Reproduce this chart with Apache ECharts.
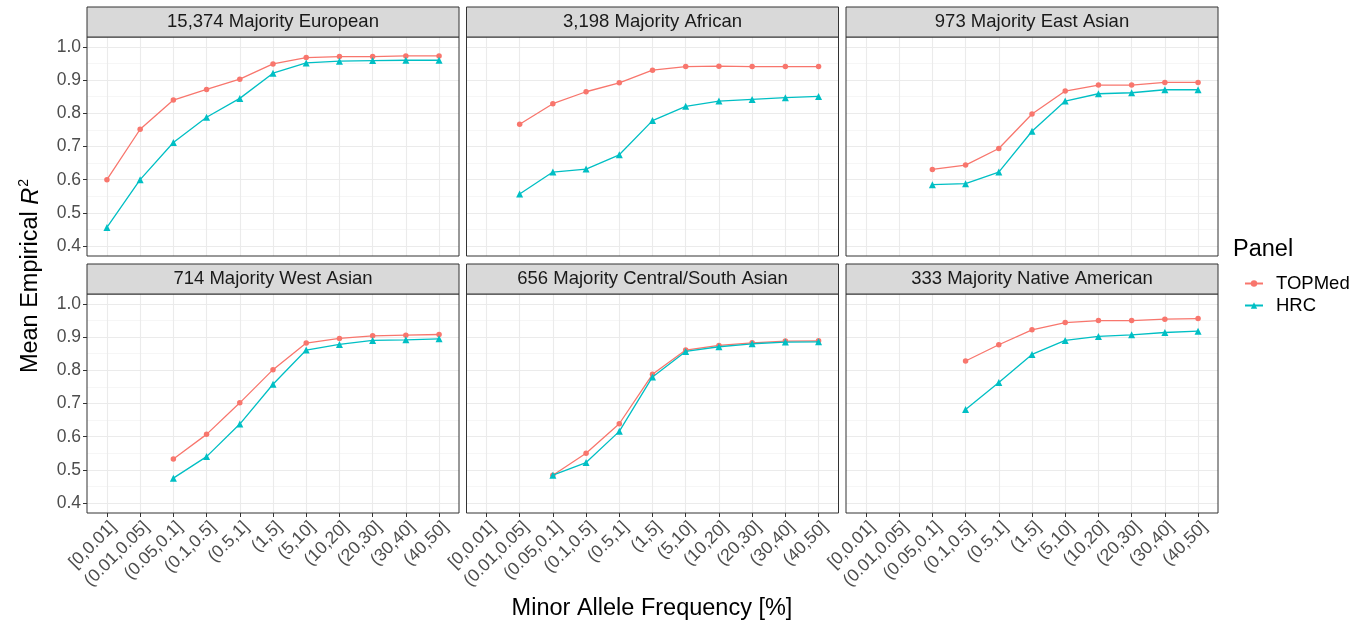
<!DOCTYPE html>
<html>
<head>
<meta charset="utf-8">
<title>Mean empirical R² by minor allele frequency</title>
<script src="https://cdn.jsdelivr.net/npm/echarts@6/dist/echarts.min.js"></script>
<style>
  html, body { margin: 0; padding: 0; background: #ffffff; }
  #chart { width: 1367px; height: 629px; }
</style>
</head>
<body>
<div id="chart"></div>
<script>
// Minor allele frequency bins (x categories)
const mafBins = ['[0,0.01]', '(0.01,0.05]', '(0.05,0.1]', '(0.1,0.5]', '(0.5,1]', '(1,5]',
                 '(5,10]', '(10,20]', '(20,30]', '(30,40]', '(40,50]'];

const panelTitles = ['15,374 Majority European', '3,198 Majority African', '973 Majority East Asian',
                     '714 Majority West Asian', '656 Majority Central/South Asian', '333 Majority Native American'];

const referencePanels = ['TOPMed', 'HRC'];

// Mean empirical R² per bin (null = bin not reported)
const topmedEuropean       = [0.600, 0.752, 0.840, 0.872, 0.903, 0.949, 0.968, 0.971, 0.971, 0.973, 0.973];
const hrcEuropean          = [0.456, 0.600, 0.712, 0.788, 0.845, 0.921, 0.952, 0.957, 0.959, 0.960, 0.960];
const topmedAfrican        = [null, 0.767, 0.829, 0.865, 0.892, 0.930, 0.941, 0.942, 0.941, 0.941, 0.941];
const hrcAfrican           = [null, 0.557, 0.623, 0.632, 0.675, 0.778, 0.821, 0.837, 0.842, 0.847, 0.851];
const topmedEastAsian      = [null, null, 0.631, 0.644, 0.694, 0.798, 0.867, 0.885, 0.885, 0.893, 0.893];
const hrcEastAsian         = [null, null, 0.585, 0.588, 0.623, 0.746, 0.837, 0.859, 0.862, 0.871, 0.871];
const topmedWestAsian      = [null, null, 0.533, 0.607, 0.702, 0.802, 0.882, 0.896, 0.904, 0.906, 0.908];
const hrcWestAsian         = [null, null, 0.475, 0.540, 0.638, 0.758, 0.861, 0.878, 0.890, 0.892, 0.895];
const topmedSouthAsian     = [null, null, 0.484, 0.550, 0.639, 0.788, 0.861, 0.875, 0.883, 0.888, 0.889];
const hrcSouthAsian        = [null, null, 0.484, 0.522, 0.616, 0.780, 0.857, 0.871, 0.880, 0.885, 0.886];
const topmedNativeAmerican = [null, null, null, 0.828, 0.877, 0.922, 0.944, 0.950, 0.950, 0.954, 0.956];
const hrcNativeAmerican    = [null, null, null, 0.682, 0.763, 0.848, 0.890, 0.902, 0.907, 0.914, 0.918];

const yBreakMin = 0.4, yBreakMax = 1.0, yBreakStep = 0.1;

const panelSeries = [
  [topmedEuropean, hrcEuropean],
  [topmedAfrican, hrcAfrican],
  [topmedEastAsian, hrcEastAsian],
  [topmedWestAsian, hrcWestAsian],
  [topmedSouthAsian, hrcSouthAsian],
  [topmedNativeAmerican, hrcNativeAmerican]
];

// ---- layout ----
const FONT = '"Liberation Sans", Arial, Helvetica, sans-serif';
const colLeft = [87, 466.5, 846];
const rowTop = [37, 294];
const PANEL_W = 372;
const PLOT_H = 219;
const STRIP_H = 30;
const EXPAND = 0.6;                                    // discrete axis padding, in category units
const yPad = (yBreakMax - yBreakMin) * 0.05;           // continuous axis padding
const yLo = yBreakMin - yPad, yHi = yBreakMax + yPad;
const catStep = PANEL_W / (mafBins.length - 1 + 2 * EXPAND);
const seriesColors = ['#F8766D', '#00BFC4'];
const seriesSymbols = ['circle', 'triangle'];
const seriesSymbolSize = [5.5, 7];

const grids = [], xAxes = [], yAxes = [], series = [], graphics = [];

panelTitles.forEach((title, p) => {
  const r = Math.floor(p / 3), c = p % 3;
  const left = colLeft[c], top = rowTop[r];
  const isBottom = r === 1, isLeft = c === 0;

  // grid 2p: horizontal gridlines + y labels, spans the full panel width over the break range
  const breakTop = top + (yHi - yBreakMax) / (yHi - yLo) * PLOT_H;
  const breakH = (yBreakMax - yBreakMin) / (yHi - yLo) * PLOT_H;
  grids.push({ left: left, top: breakTop, width: PANEL_W, height: breakH, containLabel: false });
  xAxes.push({ gridIndex: 2 * p, type: 'value', min: 0, max: 1, show: false });
  yAxes.push({
    gridIndex: 2 * p, type: 'value', min: yBreakMin, max: yBreakMax, interval: yBreakStep,
    axisLine: { show: false },
    axisTick: { show: isLeft, length: 4, lineStyle: { color: '#333333', width: 1 } },
    axisLabel: {
      show: isLeft, margin: 6, color: '#4D4D4D', fontSize: 17.5, fontFamily: FONT,
      formatter: v => v.toFixed(1)
    },
    splitLine: { show: true, lineStyle: { color: '#EBEBEB', width: 1.1 } },
    minorTick: { show: false, splitNumber: 2 },
    minorSplitLine: { show: true, lineStyle: { color: '#F2F2F2', width: 0.7 } }
  });

  // grid 2p+1: data area, spans first to last category over the full panel height
  grids.push({
    left: left + EXPAND * catStep, top: top,
    width: catStep * (mafBins.length - 1), height: PLOT_H, containLabel: false
  });
  xAxes.push({
    gridIndex: 2 * p + 1, type: 'category', data: mafBins, boundaryGap: false,
    axisLine: { show: false },
    axisTick: { show: isBottom, length: 4, inside: false, lineStyle: { color: '#333333', width: 1 } },
    axisLabel: {
      show: isBottom, interval: 0, rotate: 45, margin: 5,
      align: 'right', verticalAlign: 'top',
      color: '#4D4D4D', fontSize: 17.5, fontFamily: FONT
    },
    splitLine: { show: true, interval: 0, lineStyle: { color: '#EBEBEB', width: 1.1 } }
  });
  yAxes.push({ gridIndex: 2 * p + 1, type: 'value', min: yLo, max: yHi, show: false, splitLine: { show: false } });

  panelSeries[p].forEach((vals, s) => {
    series.push({
      name: referencePanels[s], type: 'line',
      xAxisIndex: 2 * p + 1, yAxisIndex: 2 * p + 1,
      data: vals, connectNulls: false,
      symbol: seriesSymbols[s], symbolSize: seriesSymbolSize[s], showSymbol: true,
      lineStyle: { color: seriesColors[s], width: 1.3 },
      itemStyle: { color: seriesColors[s] },
      emphasis: { disabled: true }, animation: false, z: 3 + s
    });
  });

  // panel frame
  graphics.push({
    type: 'rect', z: 50, silent: true,
    shape: { x: left, y: top, width: PANEL_W, height: PLOT_H },
    style: { fill: 'none', stroke: '#333333', lineWidth: 1 }
  });
  // strip with title
  graphics.push({
    type: 'rect', z: 50, silent: true,
    shape: { x: left, y: top - STRIP_H, width: PANEL_W, height: STRIP_H },
    style: { fill: '#D9D9D9', stroke: '#333333', lineWidth: 1 }
  });
  graphics.push({
    type: 'text', z: 51, silent: true,
    x: left + PANEL_W / 2, y: top - STRIP_H / 2,
    style: {
      text: title, fill: '#1A1A1A', font: '18.5px ' + FONT,
      align: 'center', verticalAlign: 'middle'
    }
  });
});

// axis titles
graphics.push({
  type: 'text', z: 51, silent: true,
  x: 652, y: 609,
  style: {
    text: 'Minor Allele Frequency [%]', fill: '#000000', font: '23.5px ' + FONT,
    align: 'center', verticalAlign: 'middle'
  }
});
graphics.push({
  type: 'text', z: 51, silent: true,
  x: 31, y: 276, rotation: Math.PI / 2,
  style: {
    text: 'Mean Empirical {i|R}{sup|2}', fill: '#000000', font: '23.5px ' + FONT,
    align: 'center', verticalAlign: 'middle',
    rich: {
      i: { fontStyle: 'italic', fontSize: 23.5, fontFamily: FONT, fill: '#000000', lineHeight: 28 },
      sup: { fontSize: 14, fontFamily: FONT, fill: '#000000', verticalAlign: 'top', lineHeight: 28, padding: [0, 0, 12, 1] }
    }
  }
});
// legend title
graphics.push({
  type: 'text', z: 51, silent: true,
  x: 1233, y: 250,
  style: { text: 'Panel', fill: '#000000', font: '23.5px ' + FONT, align: 'left', verticalAlign: 'middle' }
});

const chart = echarts.init(document.getElementById('chart'), null, { renderer: 'canvas' });
chart.setOption({
  backgroundColor: '#ffffff',
  animation: false,
  grid: grids,
  xAxis: xAxes,
  yAxis: yAxes,
  series: series,
  graphic: { elements: graphics },
  legend: {
    data: referencePanels,
    orient: 'vertical', left: 1239, top: 269,
    itemWidth: 18, itemHeight: 8, itemGap: 3,
    selectedMode: false,
    textStyle: { color: '#000000', fontSize: 18.5, fontFamily: FONT, padding: [0, 0, 0, 8] }
  }
});
</script>
</body>
</html>
